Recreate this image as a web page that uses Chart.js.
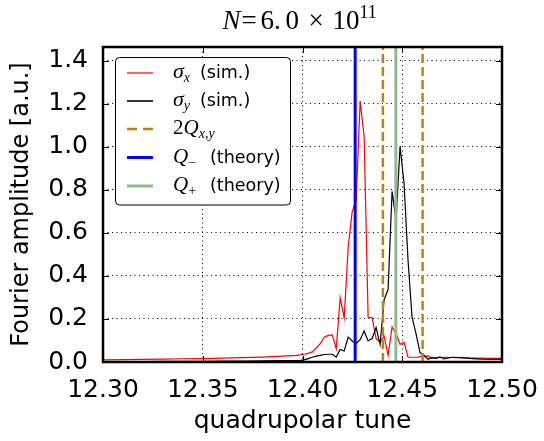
<!DOCTYPE html>
<html><head><meta charset="utf-8">
<script src="https://cdn.jsdelivr.net/npm/chart.js@4/dist/chart.umd.min.js"></script>
<style>html,body{margin:0;padding:0;background:#fff}#wrap{width:544px;height:441px}</style>
</head><body><div id="wrap"><canvas id="c" width="544" height="441"></canvas></div>
<script>
// ---- data ----
const tune = [12.30, 12.31, 12.32, 12.33, 12.34, 12.35, 12.36, 12.37, 12.38, 12.39,
  12.3969, 12.3989, 12.4009, 12.4029, 12.4049, 12.4069, 12.4089, 12.4109, 12.4129, 12.4149,
  12.4169, 12.4189, 12.4209, 12.4229, 12.4249, 12.4269, 12.4289, 12.4309, 12.4329, 12.4349,
  12.4369, 12.4389, 12.4409, 12.4429, 12.4449, 12.4469, 12.4489, 12.4509, 12.4529, 12.4549,
  12.4569, 12.4589, 12.4609, 12.4629, 12.4649, 12.4669, 12.4689, 12.4709, 12.475, 12.48,
  12.485, 12.49, 12.495, 12.50];
const sigmaX = [0.010, 0.011, 0.012, 0.013, 0.015, 0.016, 0.018, 0.020, 0.023, 0.027,
  0.031, 0.033, 0.036, 0.040, 0.047, 0.065, 0.085, 0.115, 0.124, 0.126,
  0.062, 0.298, 0.205, 0.535, 0.698, 0.755, 1.214, 1.047, 0.207, 0.207,
  0.109, 0.093, 0.120, 0.031, 0.163, 0.132, 0.082, 0.092, 0.023, 0.022,
  0.022, 0.024, 0.026, 0.028, 0.018, 0.020, 0.021, 0.022, 0.021, 0.019,
  0.018, 0.018, 0.017, 0.017];
const sigmaY = [0.002, 0.002, 0.002, 0.003, 0.003, 0.003, 0.004, 0.004, 0.005, 0.006,
  0.007, 0.008, 0.010, 0.016, 0.022, 0.027, 0.031, 0.035, 0.036, 0.036,
  0.023, 0.058, 0.051, 0.116, 0.098, 0.086, 0.104, 0.144, 0.098, 0.109,
  0.160, 0.082, 0.290, 0.337, 0.794, 0.659, 1.003, 0.830, 0.473, 0.209,
  0.132, 0.044, 0.031, 0.013, 0.020, 0.017, 0.024, 0.014, 0.022, 0.020,
  0.016, 0.013, 0.012, 0.012];
const qMinus = 12.4264;
const qPlus = 12.4468;
const twoQ = [12.4403, 12.4602];
const xTicks = [12.30, 12.35, 12.40, 12.45, 12.50];
const yTicks = [0.0, 0.2, 0.4, 0.6, 0.8, 1.0, 1.2, 1.4];
const xRange = [12.30, 12.50];
const yRange = [0, 1.465];
const titleParts = ['N', '=', '6.', '0', '×', '10', '11'];
const xTitle = 'quadrupolar tune';
const yTitle = 'Fourier amplitude [a.u.]';

// ---- styling ----
const SERIF = '"Liberation Serif", "DejaVu Serif", serif';
const SANS = '"DejaVu Sans", sans-serif';

function vline(x) { return [{x: x, y: yRange[0]}, {x: x, y: yRange[1]}]; }
function series(ys) { return tune.map((t, i) => ({x: t, y: ys[i]})); }

const datasets = [
  {data: vline(qMinus), borderColor: '#0000ff', borderWidth: 3, order: 0},
  {data: vline(qPlus), borderColor: '#8fbc8f', borderWidth: 3, order: 0},
  {data: vline(twoQ[0]), borderColor: '#b8860b', borderWidth: 2.5, borderDash: [9, 4], order: 0},
  {data: vline(twoQ[1]), borderColor: '#b8860b', borderWidth: 2.5, borderDash: [9, 4], order: 0},
  {data: series(sigmaY), borderColor: '#000000', borderWidth: 1.2, order: 1},
  {data: series(sigmaX), borderColor: '#ff0000', borderWidth: 1.2, order: 2}
];

const legendRows = [
  {color: '#ff0000', width: 1.2, dash: [], segs: [
    {t: 'σ', f: 'italic 22px ' + SERIF}, {t: 'x', f: 'italic 14px ' + SERIF, dy: 4},
    {t: '(sim.)', f: '17.5px ' + SANS, x: 200}]},
  {color: '#000000', width: 1.6, dash: [], segs: [
    {t: 'σ', f: 'italic 22px ' + SERIF}, {t: 'y', f: 'italic 14px ' + SERIF, dy: 4},
    {t: '(sim.)', f: '17.5px ' + SANS, x: 200}]},
  {color: '#b8860b', width: 2.5, dash: [10, 6], segs: [
    {t: '2', f: '21px ' + SERIF}, {t: 'Q', f: 'italic 21px ' + SERIF},
    {t: 'x,y', f: 'italic 14px ' + SERIF, dy: 4}]},
  {color: '#0000ff', width: 3, dash: [], segs: [
    {t: 'Q', f: 'italic 21px ' + SERIF}, {t: '−', f: '14px ' + SERIF, dy: 4},
    {t: '(theory)', f: '17.5px ' + SANS, x: 210}]},
  {color: '#8fbc8f', width: 3, dash: [], segs: [
    {t: 'Q', f: 'italic 21px ' + SERIF}, {t: '+', f: '14px ' + SERIF, dy: 4},
    {t: '(theory)', f: '17.5px ' + SANS, x: 210}]}
];

function drawRich(ctx, x, y, segs) {
  let cx = x;
  ctx.textBaseline = 'alphabetic';
  ctx.textAlign = 'left';
  for (const s of segs) {
    ctx.font = s.f;
    if (s.x !== undefined) cx = s.x;
    ctx.fillText(s.t, cx, y + (s.dy || 0));
    cx += ctx.measureText(s.t).width;
  }
}

const decor = {
  id: 'decor',
  afterDatasetsDraw(chart) {
    const ctx = chart.ctx;
    const a = chart.chartArea;
    const xs = chart.scales.x, ys = chart.scales.y;
    ctx.save();
    ctx.strokeStyle = '#000';
    ctx.lineWidth = 1;
    ctx.beginPath();
    for (const v of xTicks) {
      const px = Math.round(xs.getPixelForValue(v)) + 0.5;
      ctx.moveTo(px, a.bottom); ctx.lineTo(px, a.bottom - 6);
      ctx.moveTo(px, a.top); ctx.lineTo(px, a.top + 6);
    }
    for (const v of yTicks) {
      const py = Math.round(ys.getPixelForValue(v)) + 0.5;
      ctx.moveTo(a.left, py); ctx.lineTo(a.left + 6, py);
      ctx.moveTo(a.right, py); ctx.lineTo(a.right - 6, py);
    }
    ctx.stroke();
    ctx.lineWidth = 2.5;
    ctx.strokeRect(a.left, a.top, a.right - a.left, a.bottom - a.top);

    // legend
    const lx = 115.5, ly = 57.5, lw = 175, lh = 147.5;
    ctx.beginPath();
    ctx.roundRect(lx, ly, lw, lh, 4);
    ctx.fillStyle = '#fff';
    ctx.fill();
    ctx.lineWidth = 1;
    ctx.strokeStyle = '#000';
    ctx.stroke();
    const rowsY = [73, 101, 129, 157.5, 186];
    legendRows.forEach((r, i) => {
      const y = rowsY[i];
      ctx.beginPath();
      ctx.setLineDash(r.dash);
      ctx.strokeStyle = r.color;
      ctx.lineWidth = r.width;
      ctx.moveTo(127, y); ctx.lineTo(153, y);
      ctx.stroke();
      ctx.setLineDash([]);
      ctx.fillStyle = '#000';
      drawRich(ctx, 173, y + 5, r.segs);
    });

    // title (positions relative to the plot centre)
    const fonts = ['italic 27px ' + SERIF, '27px ' + SERIF, '27px ' + SERIF, '27px ' + SERIF,
                   '27px ' + SERIF, '27px ' + SERIF, '18px ' + SERIF];
    const offs = [-80, -61, -42, -17, 6, 30, 57];
    const dys = [0, 0, 0, 0, 0, 0, -11];
    const cx = (a.left + a.right) / 2;
    ctx.fillStyle = '#000';
    ctx.textBaseline = 'alphabetic';
    ctx.textAlign = 'left';
    titleParts.forEach((t, i) => {
      ctx.font = fonts[i];
      ctx.fillText(t, cx + offs[i], 28.5 + dys[i]);
    });
    ctx.restore();
  }
};

new Chart(document.getElementById('c'), {
  type: 'line',
  data: {datasets: datasets},
  options: {
    responsive: false,
    devicePixelRatio: 1,
    animation: false,
    elements: {point: {radius: 0}, line: {tension: 0, fill: false}},
    layout: {padding: {left: 0, right: 42, top: 47, bottom: 0}},
    plugins: {legend: {display: false}, title: {display: false}, tooltip: {enabled: false}},
    scales: {
      x: {
        type: 'linear', min: xRange[0], max: xRange[1],
        afterBuildTicks: s => { s.ticks = xTicks.map(v => ({value: v})); },
        afterFit: s => { s.height = 79; s.paddingLeft = 0; s.paddingRight = 0; },
        ticks: {callback: v => v.toFixed(2), color: '#000', padding: 13, maxRotation: 0, autoSkip: false,
                font: {family: 'DejaVu Sans', size: 25}},
        grid: {color: '#000', lineWidth: 1, drawTicks: false},
        border: {display: false, dash: [1, 3.5]},
        title: {display: true, text: xTitle, color: '#000', font: {family: 'DejaVu Sans', size: 25},
                padding: {top: 0, bottom: 5}}
      },
      y: {
        type: 'linear', min: yRange[0], max: yRange[1],
        afterBuildTicks: s => { s.ticks = yTicks.map(v => ({value: v})); },
        afterFit: s => { s.width = 103; s.paddingTop = 0; s.paddingBottom = 0; },
        ticks: {callback: v => v.toFixed(1), color: '#000', padding: 15,
                font: {family: 'DejaVu Sans', size: 25}},
        grid: {color: '#000', lineWidth: 1, drawTicks: false},
        border: {display: false, dash: [1, 3.5]},
        title: {display: true, text: yTitle, color: '#000', font: {family: 'DejaVu Sans', size: 24},
                padding: {top: 7, bottom: 0}}
      }
    }
  },
  plugins: [decor]
});
</script></body></html>
